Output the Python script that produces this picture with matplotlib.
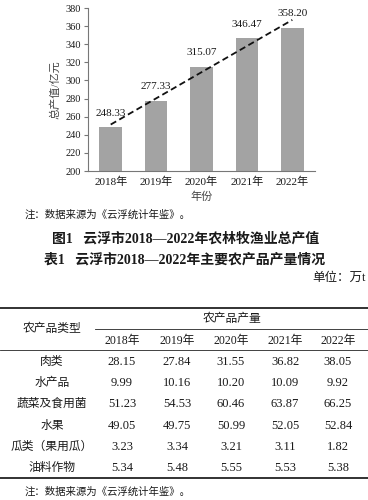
import matplotlib
matplotlib.use("Agg")
import matplotlib.pyplot as plt
import numpy as np
from matplotlib.lines import Line2D

plt.rcParams['font.family'] = ['Liberation Serif', 'Noto Sans CJK SC']

# chart data
years = ['2018年', '2019年', '2020年', '2021年', '2022年']
output_value = [248.33, 277.33, 315.07, 346.47, 358.20]

# table data
products = ['肉类', '水产品', '蔬菜及食用菌', '水果', '瓜类（果用瓜）', '油料作物']
production = [
    [28.15, 27.84, 31.55, 36.82, 38.05],
    [9.99, 10.16, 10.20, 10.09, 9.92],
    [51.23, 54.53, 60.46, 63.87, 66.25],
    [49.05, 49.75, 50.99, 52.05, 52.84],
    [3.23, 3.34, 3.21, 3.11, 1.82],
    [5.34, 5.48, 5.55, 5.53, 5.38],
]

W, H = 368, 500
fig = plt.figure(figsize=(W / 100, H / 100), dpi=100)


def fx(px):
    return px / W


def fy(py):
    return 1 - py / H


text_color = '#1a1a1a'

# ---- bar chart ----
ax = fig.add_axes([fx(88), fy(171), fx(315) - fx(88), fy(8) - fy(171)])
x = np.arange(len(years))
ax.bar(x, output_value, width=0.5, color='#a3a3a3')
for xi, v in zip(x, output_value):
    ax.annotate(f'{v:.2f}', (xi, v), xytext=(0, 7), textcoords='offset points',
                ha='center', va='bottom', fontsize=8, color=text_color)

# linear trend line
k, b = np.polyfit(x, output_value, 1)
ax.plot(x[[0, -1]], k * x[[0, -1]] + b, color='#111111', linestyle='--',
        linewidth=1.3, dashes=(3.5, 2))

ax.set_xlim(-0.5, 4.5)
ax.set_ylim(200, 380)
ax.set_yticks(np.arange(200, 381, 20))
ax.set_xticks(x)
ax.set_xticklabels(years)
ax.tick_params(axis='x', length=0, pad=4, labelsize=8, colors=text_color)
ax.tick_params(axis='y', length=3, width=0.8, pad=2, labelsize=7.5,
               colors=text_color, color='#777777')
for s in ['top', 'right']:
    ax.spines[s].set_visible(False)
for s in ['left', 'bottom']:
    ax.spines[s].set_color('#777777')
    ax.spines[s].set_linewidth(0.8)
ax.set_ylabel('总产值/亿元', fontsize=8, color='#444444', labelpad=4)
ax.set_xlabel('年份', fontsize=8, color='#444444', labelpad=3)

# ---- captions ----
fig.text(fx(25), fy(215), '注：数据来源为《云浮统计年鉴》。', fontsize=7.5,
         color=text_color, va='center', ha='left')
fig.text(fx(186), fy(239), '图1   云浮市2018—2022年农林牧渔业总产值', fontsize=10,
         fontweight='bold', color=text_color, va='center', ha='center')
fig.text(fx(185), fy(260), '表1   云浮市2018—2022年主要农产品产量情况', fontsize=10,
         fontweight='bold', color=text_color, va='center', ha='center')
fig.text(fx(366), fy(278), '单位：万t', fontsize=9, color=text_color,
         va='center', ha='right')

# ---- table ----
def hline(py, x0, x1, lw):
    fig.add_artist(Line2D([fx(x0), fx(x1)], [fy(py), fy(py)],
                          color='#222222', linewidth=lw))


hline(308, 0, 368, 1.3)
hline(329, 95, 368, 0.6)
hline(350, 0, 368, 0.6)
hline(478, 0, 368, 1.3)

col_x = [122, 177, 231, 285, 338]
first_col_x = 52
fig.text(fx(first_col_x), fy(329), '农产品类型', fontsize=8.5, color=text_color,
         ha='center', va='center')
fig.text(fx(232), fy(319), '农产品产量', fontsize=8.5, color=text_color,
         ha='center', va='center')
for cx, yr in zip(col_x, years):
    fig.text(fx(cx), fy(341), yr, fontsize=8.5, color=text_color,
             ha='center', va='center')

row_y = [362, 383, 404, 426, 447, 468]
for ry, name, vals in zip(row_y, products, production):
    fig.text(fx(first_col_x), fy(ry), name, fontsize=8.5, color=text_color,
             ha='center', va='center')
    for cx, v in zip(col_x, vals):
        fig.text(fx(cx), fy(ry), f'{v:.2f}', fontsize=9, color=text_color,
                 ha='center', va='center')

fig.text(fx(25), fy(492), '注：数据来源为《云浮统计年鉴》。', fontsize=7.5,
         color=text_color, va='center', ha='left')

fig.savefig('out.png', dpi=100)
